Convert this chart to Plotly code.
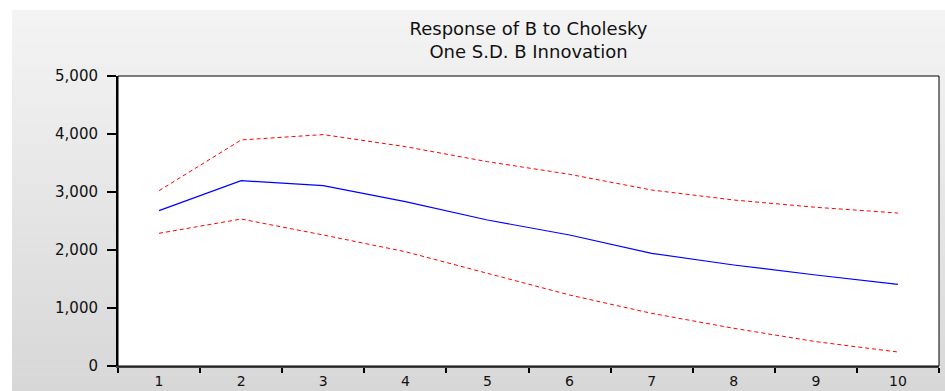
import plotly.graph_objects as go

periods = ["1", "2", "3", "4", "5", "6", "7", "8", "9", "10"]
response = [2678, 3195, 3110, 2833, 2517, 2259, 1943, 1741, 1569, 1408]
upper_band = [3023, 3897, 3990, 3782, 3523, 3305, 3034, 2862, 2736, 2638]
lower_band = [2288, 2534, 2259, 1971, 1598, 1224, 908, 650, 420, 241]
y_ticks = [0, 1000, 2000, 3000, 4000, 5000]

W, H = 945, 391
L, R, T, B = 118, 939, 76, 366
FONT = "DejaVu Sans"

fig = go.Figure()
fig.add_trace(go.Scatter(x=periods, y=upper_band, mode="lines",
                         line=dict(color="#ff0000", width=1, dash="4px,3px"),
                         showlegend=False, hoverinfo="skip"))
fig.add_trace(go.Scatter(x=periods, y=lower_band, mode="lines",
                         line=dict(color="#ff0000", width=1, dash="4px,3px"),
                         showlegend=False, hoverinfo="skip"))
fig.add_trace(go.Scatter(x=periods, y=response, mode="lines",
                         line=dict(color="#0000ff", width=1.2),
                         showlegend=False))


def px_x(p):
    return (p - L) / (R - L)


def px_y(p):
    return (B - p) / (B - T)


shapes = []
# gradient background panel
n = 48
top_px, bot_px = 10, H
for i in range(n):
    y0 = top_px + (bot_px - top_px) * i / n
    y1 = top_px + (bot_px - top_px) * (i + 1) / n + 0.6
    g = round(244 - (244 - 215) * (i + 0.5) / n)
    shapes.append(dict(type="rect", xref="paper", yref="paper", layer="below",
                       x0=px_x(12), x1=px_x(W + 2), y0=px_y(y0), y1=px_y(y1),
                       line=dict(width=0), fillcolor=f"rgb({g},{g},{g})"))
# white plot area
shapes.append(dict(type="rect", xref="paper", yref="paper", layer="below",
                   x0=0, x1=1, y0=0, y1=1, line=dict(width=0), fillcolor="white"))
# frame
shapes.append(dict(type="rect", xref="paper", yref="paper", layer="above",
                   x0=0, x1=1, y0=0, y1=1, line=dict(width=1, color="black")))

fig.update_layout(
    width=W, height=H,
    margin=dict(l=L, r=W - R, t=T, b=H - B),
    paper_bgcolor="white", plot_bgcolor="white",
    shapes=shapes,
    title=dict(text="Response of B to Cholesky<br>One S.D. B Innovation",
               x=0.5, xref="paper", xanchor="center",
               y=1 - 35 / H, yref="container", yanchor="middle",
               font=dict(family=FONT, size=18, color="#111")),
    xaxis=dict(type="category", tickson="boundaries", range=[-0.5, 9.5],
               automargin=False,
               showgrid=False, zeroline=False, showline=True, linecolor="#444",
               linewidth=2, ticks="outside", ticklen=5, tickcolor="black",
               tickwidth=1.5, ticklabelstandoff=1,
               tickfont=dict(family=FONT, size=14, color="#111")),
    yaxis=dict(range=[0, 5000], tickvals=y_ticks, tickformat=",",
               automargin=False,
               showgrid=False, zeroline=False, showline=True, linecolor="black",
               linewidth=2, ticks="outside", ticklen=9, tickcolor="black",
               tickwidth=1.5, ticklabelstandoff=6,
               tickfont=dict(family=FONT, size=15, color="#111")),
)

fig.write_html("out.html")
